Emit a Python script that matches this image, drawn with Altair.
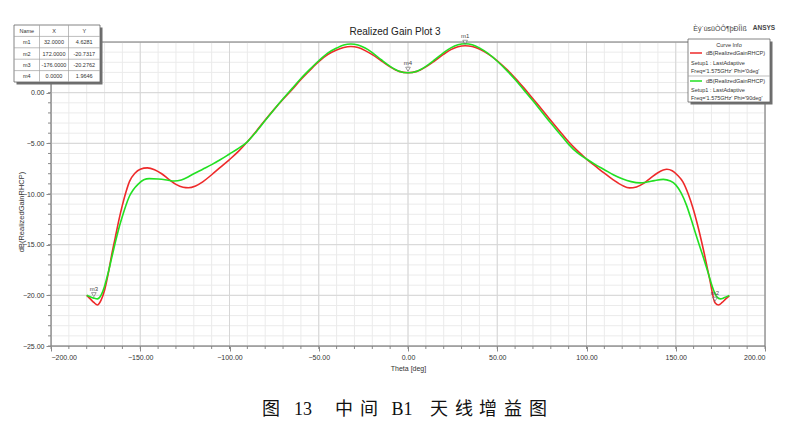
import altair as alt
import pandas as pd

# Realized gain (dB, RHCP) versus theta, phi = 0 deg cut
theta_phi0 = [-180, -178, -176, -174, -172, -170, -168, -166, -164, -162, -160, -158, -156, -153,
              -150, -146, -142, -138, -134, -130, -126, -123, -119, -115, -110, -105, -100, -95,
              -90, -85, -80, -75, -70, -65, -60, -55, -50, -45, -40, -36, -32, -28, -24, -20,
              -15, -10, -5, 0, 5, 10, 15, 20, 24, 28, 32, 36, 40, 45, 50, 55, 60, 65, 70, 75,
              80, 85, 90, 95, 100, 105, 110, 115, 120, 124, 128, 132, 136, 140, 145, 148, 151,
              154, 157, 160, 163, 166, 169, 172, 174, 176, 178, 180]
gain_phi0 = [-20.0, -20.35, -20.7, -20.95, -20.5, -19.5, -17.9, -16.0, -14.3, -12.6, -11.1, -9.8,
             -8.75, -7.95, -7.55, -7.42, -7.6, -8.0, -8.55, -9.05, -9.33, -9.38, -9.2, -8.8, -8.1,
             -7.35, -6.6, -5.8, -4.85, -3.8, -2.7, -1.65, -0.65, 0.3, 1.3, 2.2, 3.05, 3.75, 4.2,
             4.45, 4.55, 4.45, 4.15, 3.75, 3.15, 2.55, 2.1, 1.9646, 2.1, 2.55, 3.15, 3.8, 4.25,
             4.53, 4.6281, 4.55, 4.3, 3.8, 3.15, 2.35, 1.45, 0.45, -0.6, -1.65, -2.75, -3.8,
             -4.85, -5.75, -6.55, -7.25, -7.95, -8.6, -9.15, -9.4, -9.3, -8.95, -8.4, -7.9,
             -7.56, -7.7, -8.15, -8.8, -10.0, -11.6, -13.6, -15.9, -18.4, -20.7317, -20.95,
             -20.7, -20.35, -20.05]

# Realized gain (dB, RHCP) versus theta, phi = 90 deg cut
theta_phi90 = [-180, -178, -176, -174, -172, -170, -168, -166, -164, -162, -160, -158, -156, -154,
               -151, -148, -145, -140, -135, -131, -127, -123, -120, -115, -110, -105, -100, -95,
               -90, -85, -80, -75, -70, -65, -60, -55, -50, -45, -40, -36, -32, -28, -24, -20,
               -15, -10, -5, 0, 5, 10, 15, 20, 24, 28, 32, 36, 40, 45, 50, 55, 60, 65, 70, 75,
               80, 85, 90, 95, 100, 105, 110, 115, 120, 125, 130, 134, 138, 143, 147, 150, 153,
               156, 159, 162, 165, 168, 171, 173, 175, 177, 180]
gain_phi90 = [-20.0, -20.15, -20.2762, -20.35, -20.0, -19.1, -17.8, -16.3, -14.8, -13.4, -12.2,
              -11.1, -10.2, -9.6, -9.0, -8.6, -8.48, -8.52, -8.62, -8.72, -8.62, -8.3, -8.0,
              -7.55, -7.1, -6.6, -6.05, -5.5, -4.85, -3.85, -2.75, -1.65, -0.6, 0.4, 1.4, 2.3,
              3.15, 3.9, 4.4, 4.7, 4.8, 4.7, 4.4, 3.95, 3.25, 2.6, 2.12, 1.9646, 2.12, 2.6, 3.25,
              3.95, 4.42, 4.72, 4.82, 4.72, 4.42, 3.85, 3.1, 2.25, 1.3, 0.25, -0.8, -1.9, -3.0,
              -4.05, -5.1, -5.95, -6.55, -7.1, -7.6, -8.1, -8.5, -8.78, -8.9, -8.82, -8.68,
              -8.56, -8.72, -9.1, -9.9, -11.1, -12.7, -14.4, -16.0, -17.7, -19.4, -20.15, -20.35,
              -20.25, -20.0]

# Markers
marker_names = ["m1", "m2", "m3", "m4"]
marker_theta = [32.0, 172.0, -176.0, 0.0]
marker_gain = [4.6281, -20.7317, -20.2762, 1.9646]

# Axis ticks and grid
x_major = list(range(-200, 201, 50))
x_minor = list(range(-200, 201, 10))
y_major = list(range(-25, 1, 5))
y_minor = list(range(-25, 6, 1))

# Caption pieces
caption_parts = ["图", "13", "中", "间", "B1", "天", "线", "增", "益", "图"]

W, H = 714, 304
FONT = "Liberation Sans, Arial, sans-serif"
CAP_FONT = "Liberation Serif, 'Noto Sans CJK SC', serif"
RED = "#ee2a2a"
GREEN = "#22e022"
AXIS_GREY = "#8a8a8a"

xs = alt.Scale(domain=[-200, 200], nice=False, zero=False)
ys = alt.Scale(domain=[-25, 5], nice=False, zero=False)
one = pd.DataFrame({"k": [0]})

x_axis = alt.Axis(values=x_major, format=".2f", grid=False, tickSize=5, tickColor=AXIS_GREY,
                  domainColor=AXIS_GREY, labelFontSize=7, labelFont=FONT, labelColor="#333333",
                  labelPadding=2, title="Theta [deg]", titleFontSize=7, titleFont=FONT,
                  titleFontWeight="normal", titleColor="#333333", titlePadding=4)
y_axis = alt.Axis(values=y_major, format=".2f", grid=False, tickSize=5, tickColor=AXIS_GREY,
                  domainColor=AXIS_GREY, labelFontSize=7, labelFont=FONT, labelColor="#333333",
                  labelPadding=2, title=None)


def X(field):
    return alt.X(field, scale=xs, axis=x_axis)


def Y(field):
    return alt.Y(field, scale=ys, axis=y_axis)


def text_at(s, x, y, size=6, align="center", weight="normal", color="#333333", font=FONT,
            angle=None):
    kw = dict(text=s, fontSize=size, align=align, baseline="middle", fontWeight=weight,
              color=color, font=font)
    if angle is not None:
        kw["angle"] = angle
    return alt.Chart(one).mark_text(**kw).encode(x=alt.value(x), y=alt.value(y))


def box(x0, y0, x1, y1, fill="white", stroke=None, sw=1.0):
    kw = dict(fill=fill, strokeWidth=sw)
    if stroke is not None:
        kw["stroke"] = stroke
    return alt.Chart(one).mark_rect(**kw).encode(
        x=alt.value(x0), x2=alt.value(x1), y=alt.value(y0), y2=alt.value(y1))


def hline(x0, x1, y, color, sw=1.0):
    return alt.Chart(one).mark_rule(color=color, strokeWidth=sw).encode(
        x=alt.value(x0), x2=alt.value(x1), y=alt.value(y))


def vline(x, y0, y1, color, sw=1.0):
    return alt.Chart(one).mark_rule(color=color, strokeWidth=sw).encode(
        x=alt.value(x), y=alt.value(y0), y2=alt.value(y1))


layers = []

# grid
layers.append(alt.Chart(pd.DataFrame({"theta": x_minor})).mark_rule(color="#ebebeb").encode(
    x=X("theta:Q"), y=alt.value(0), y2=alt.value(H)))
layers.append(alt.Chart(pd.DataFrame({"gain": y_minor})).mark_rule(color="#ebebeb").encode(
    y=Y("gain:Q"), x=alt.value(0), x2=alt.value(W)))
layers.append(alt.Chart(pd.DataFrame({"theta": x_major})).mark_rule(color="#d6d6d6").encode(
    x=X("theta:Q"), y=alt.value(0), y2=alt.value(H)))
layers.append(alt.Chart(pd.DataFrame({"gain": y_major})).mark_rule(color="#d6d6d6").encode(
    y=Y("gain:Q"), x=alt.value(0), x2=alt.value(W)))

# minor ticks
layers.append(alt.Chart(pd.DataFrame({"theta": x_minor})).mark_rule(color=AXIS_GREY).encode(
    x=X("theta:Q"), y=alt.value(H), y2=alt.value(H + 3)))
layers.append(alt.Chart(pd.DataFrame({"gain": y_minor})).mark_rule(color=AXIS_GREY).encode(
    y=Y("gain:Q"), x=alt.value(-3), x2=alt.value(0)))

# curves
df0 = pd.DataFrame({"theta": theta_phi0, "gain": gain_phi0})
df90 = pd.DataFrame({"theta": theta_phi90, "gain": gain_phi90})
layers.append(alt.Chart(df0).mark_line(color=RED, strokeWidth=1.6, interpolate="monotone").encode(
    x=X("theta:Q"), y=Y("gain:Q")))
layers.append(alt.Chart(df90).mark_line(color=GREEN, strokeWidth=1.6, interpolate="monotone").encode(
    x=X("theta:Q"), y=Y("gain:Q")))

# frame
layers.append(alt.Chart(one).mark_rect(filled=False, stroke="#7a7a7a", strokeWidth=1).encode(
    x=alt.value(0), x2=alt.value(W), y=alt.value(0), y2=alt.value(H)))

# markers
mk = pd.DataFrame({"name": marker_names, "theta": marker_theta, "gain": marker_gain})
layers.append(alt.Chart(mk).mark_point(shape="triangle-down", size=22, filled=True, fill="white",
                                       stroke="#555555", strokeWidth=0.8, yOffset=-3.5).encode(
    x=X("theta:Q"), y=Y("gain:Q")))
layers.append(alt.Chart(mk).mark_text(fontSize=6, font=FONT, color="#444444", dy=-9.5).encode(
    x=X("theta:Q"), y=Y("gain:Q"), text="name:N"))

# y-axis title
layers.append(text_at("dB(RealizedGainRHCP)", -29, 170, size=7.5, angle=270))

# headings
layers.append(text_at("Realized Gain Plot 3", 344, -10, size=10, color="#222222"))
layers.append(text_at("Èý´ùsüÒÔ¶þÐÎÌß", 669, -13, size=7, color="#444444"))
layers.append(text_at("ANSYS", 713, -14, size=6.5, weight="bold", color="#444444"))

# marker table
tx0, tx1 = -37, 49
col_edges = [-37, -11.5, 17.5, 49]
row_h = 11.4
ty0 = -17
rows = [["Name", "X", "Y"]] + [
    [n, f"{t:.4f}", f"{g:.4f}"] for n, t, g in zip(marker_names, marker_theta, marker_gain)]
ty1 = ty0 + row_h * len(rows)
layers.append(box(tx0 + 2.5, ty0 + 2.5, tx1 + 2.5, ty1 + 2.5, fill="#6f6f6f"))
layers.append(box(tx0, ty0, tx1, ty1, fill="white", stroke="#666666", sw=0.8))
for i in range(1, len(rows)):
    layers.append(hline(tx0, tx1, ty0 + row_h * i, "#a0a0a0", 0.7))
for c in col_edges[1:-1]:
    layers.append(vline(c, ty0, ty1, "#a0a0a0", 0.7))
for r, cells in enumerate(rows):
    for c, s in enumerate(cells):
        cx = (col_edges[c] + col_edges[c + 1]) / 2
        layers.append(text_at(s, cx, ty0 + row_h * (r + 0.5), size=5.5))

# curve info box
lx0, lx1, ly0, ly1 = 637, 719, -3, 60
layers.append(box(lx0 + 2.5, ly0 + 2.5, lx1 + 2.5, ly1 + 2.5, fill="#6f6f6f"))
layers.append(box(lx0, ly0, lx1, ly1, fill="white", stroke="#666666", sw=0.8))
layers.append(text_at("Curve Info", (lx0 + lx1) / 2, 3, size=5.5))
layers.append(hline(lx0, lx1, 34, "#a0a0a0", 0.7))
layers.append(hline(639, 651, 11, RED, 1.5))
layers.append(text_at("dB(RealizedGainRHCP)", 655, 11, size=5.5, align="left"))
layers.append(text_at("Setup1 : LastAdaptive", 640, 21, size=5.5, align="left"))
layers.append(text_at("Freq='1.575GHz' Phi='0deg'", 640, 29, size=5.5, align="left"))
layers.append(hline(639, 651, 39, GREEN, 1.5))
layers.append(text_at("dB(RealizedGainRHCP)", 655, 39, size=5.5, align="left"))
layers.append(text_at("Setup1 : LastAdaptive", 640, 47.5, size=5.5, align="left"))
layers.append(text_at("Freq='1.575GHz' Phi='90deg'", 640, 55.5, size=5.5, align="left"))

# caption, set with wide character spacing
cap_centers = [220, 252, 293, 318, 351, 388, 413, 437, 462, 487]
for s, cx in zip(caption_parts, cap_centers):
    layers.append(text_at(s, cx, 368, size=18, color="#111111", font=CAP_FONT))

chart = alt.layer(*layers).properties(
    width=W, height=H,
    autosize=alt.AutoSizeParams(type="none"),
    padding={"left": 51, "top": 42, "right": 30, "bottom": 78},
).configure_view(stroke=None).configure(background="white")

chart.save("out.html", embed_options={"renderer": "svg", "actions": False})
